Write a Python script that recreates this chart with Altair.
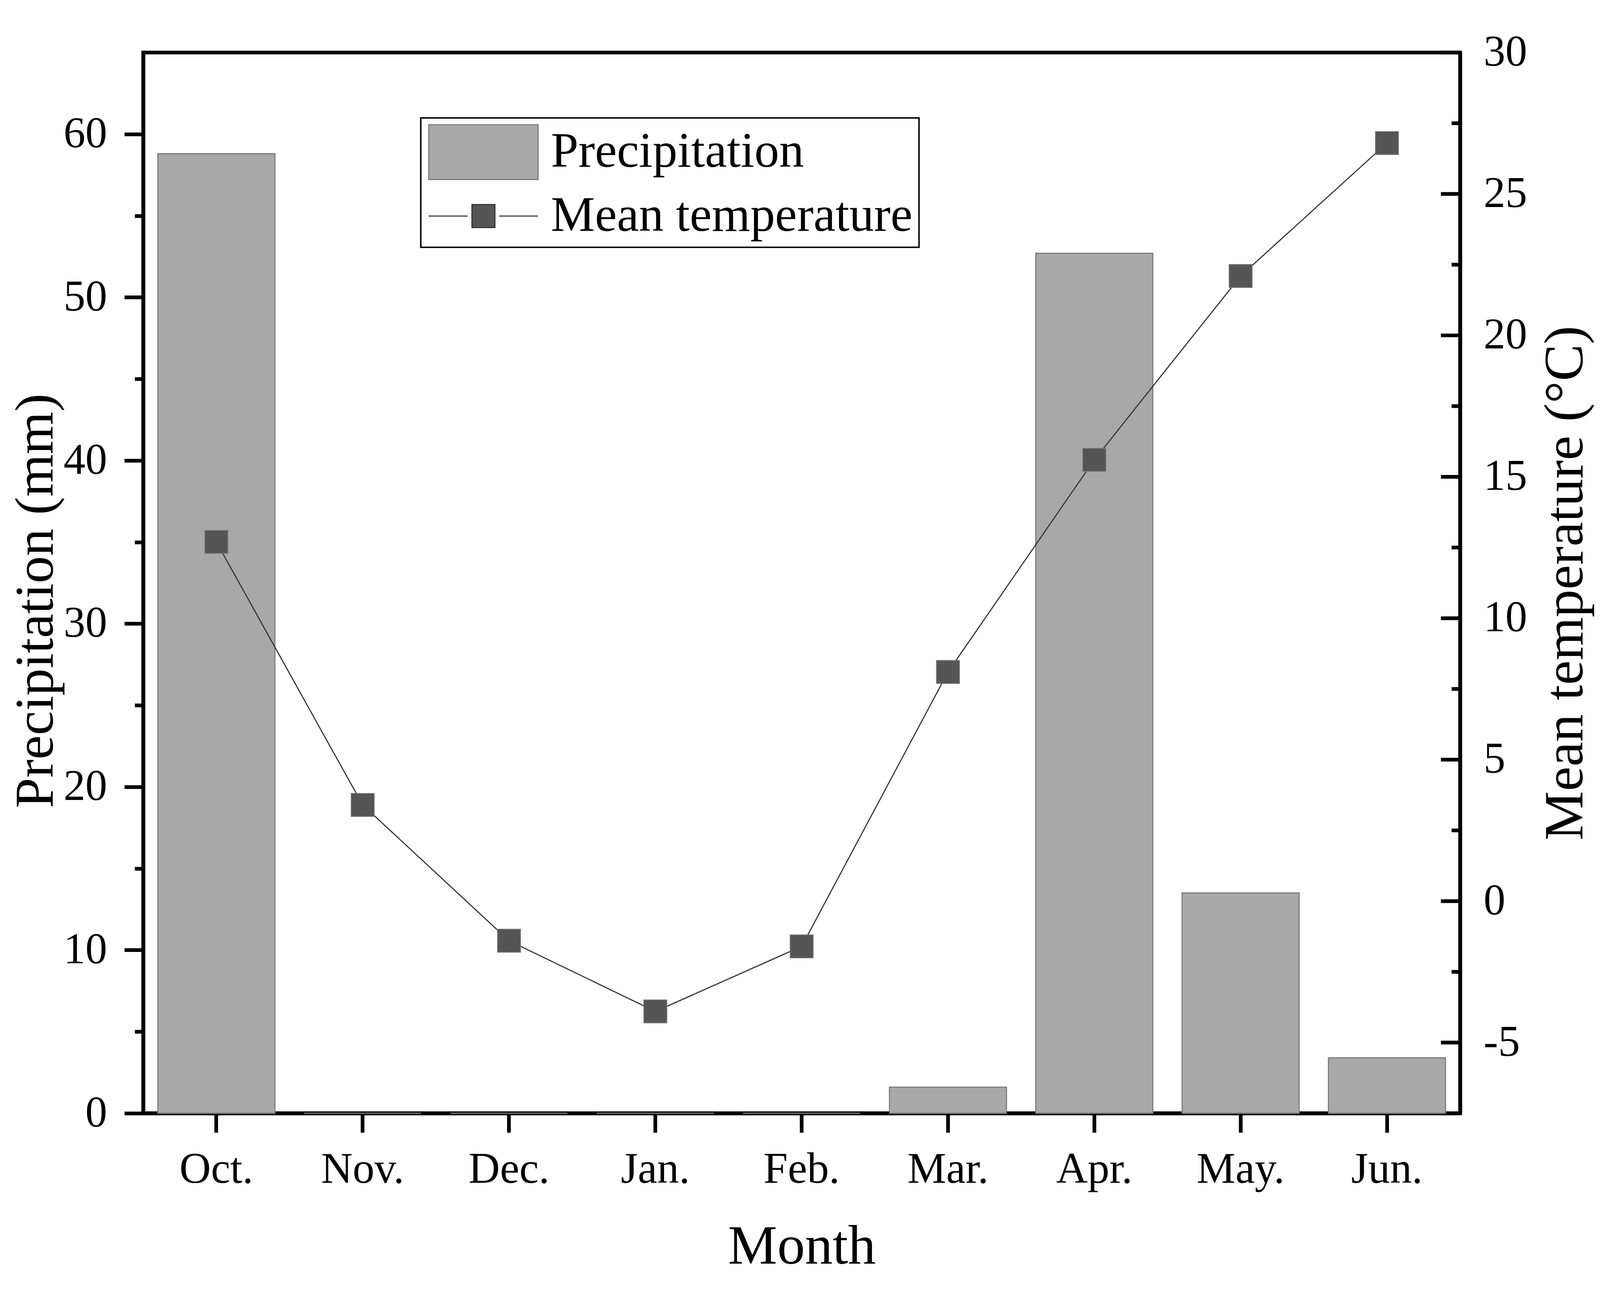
import altair as alt
import pandas as pd

# ---- data ----
months = ["Oct.", "Nov.", "Dec.", "Jan.", "Feb.", "Mar.", "Apr.", "May.", "Jun."]
precipitation = [58.8, 0, 0, 0, 0, 1.6, 52.7, 13.5, 3.4]
mean_temperature = [12.7, 3.4, -1.4, -3.9, -1.6, 8.1, 15.6, 22.1, 26.8]
series_names = ["Precipitation", "Mean temperature"]
left_ticks = [0, 5, 10, 15, 20, 25, 30, 35, 40, 45, 50, 55, 60]
right_major = [-5, 0, 5, 10, 15, 20, 25, 30]
right_minor = [-2.5, 2.5, 7.5, 12.5, 17.5, 22.5, 27.5]

W, H = 3563, 2870
FONT = "Liberation Serif"

df = pd.DataFrame({"month": months, "precip": precipitation, "temp": mean_temperature})
legend_df = pd.DataFrame({"series": series_names})
major_df = pd.DataFrame({"v": right_major})
minor_df = pd.DataFrame({"v": right_minor})


def x_scale():
    return alt.Scale(domain=months, paddingInner=0.2, paddingOuter=0.1)


def left_scale():
    return alt.Scale(domain=[0, 65], nice=False, zero=True)


def right_scale():
    return alt.Scale(domain=[-7.5, 30], nice=False, zero=False)


def x_axis():
    return alt.Axis(
        title="Month", labelAngle=0, tickSize=52, labelPadding=43,
        titlePadding=87, titleFontSize=150, orient="bottom",
    )


left_axis = alt.Axis(
    title="Precipitation (mm)", values=left_ticks,
    labelExpr="datum.value % 10 === 0 ? datum.label : ''",
    tickSize={"condition": {"test": "datum.value % 10 !== 0", "value": 23}, "value": 51},
    labelPadding=47, titlePadding=14, titleFontSize=148, titleY=1483, orient="left",
)
right_axis = alt.Axis(
    title="Mean temperature (°C)", values=right_major,
    labelExpr="'' + datum.value", ticks=False,
    labelPadding=63, titlePadding=30, titleFontSize=150,
    titleAngle=270, titleBaseline="top", orient="right",
)

bars = alt.Chart(df).mark_bar(fill="#A8A8A8", stroke="#7A7A7A", strokeWidth=3).encode(
    x=alt.X("month:N", sort=months, scale=x_scale(), axis=x_axis()),
    y=alt.Y("precip:Q", scale=left_scale(), axis=left_axis),
)

line = alt.Chart(df).mark_line(color="#333333", strokeWidth=3).encode(
    x=alt.X("month:N", sort=months, scale=x_scale(), axis=x_axis()),
    y=alt.Y("temp:Q", scale=right_scale(), axis=right_axis),
)

points = alt.Chart(df).mark_point(
    shape="square", filled=True, size=3900, fill="#555555",
    stroke="#7A7A7A", strokeWidth=2, opacity=1,
).encode(
    x=alt.X("month:N", sort=months, scale=x_scale(), axis=x_axis()),
    y=alt.Y("temp:Q", scale=right_scale(), axis=None),
)

major_ticks = alt.Chart(major_df).mark_rule(color="black", strokeWidth=10, x2Offset=-52).encode(
    y=alt.Y("v:Q", scale=right_scale(), axis=None),
    x=alt.value("width"), x2=alt.value("width"),
)
minor_ticks = alt.Chart(minor_df).mark_rule(color="black", strokeWidth=10, x2Offset=-23).encode(
    y=alt.Y("v:Q", scale=right_scale(), axis=None),
    x=alt.value("width"), x2=alt.value("width"),
)

rect_path = "M-2,-1H2V1H-2Z"
line_path = "M-2,0H-0.58M0.58,0H2M-0.42,-0.42H0.42V0.42H-0.42Z"

leg = alt.Legend(
    title=None, orient="none", legendX=751, legendY=177, direction="vertical",
    symbolSize=148 * 148, symbolStrokeWidth=3, symbolOpacity=1,
    symbolOffset=77, labelOffset=107, labelFont=FONT, labelFontSize=134,
    labelColor="black", labelLimit=3000, padding=17, rowPadding=17,
    strokeColor="black", fillColor="white",
)

legend_layer = alt.Chart(legend_df).mark_point(filled=True, opacity=0).encode(
    color=alt.Color("series:N", scale=alt.Scale(domain=series_names, range=["#A8A8A8", "#555555"]), legend=leg),
    stroke=alt.Stroke("series:N", scale=alt.Scale(domain=series_names, range=["#7A7A7A", "#333333"]), legend=leg),
    shape=alt.Shape("series:N", scale=alt.Scale(domain=series_names, range=[rect_path, line_path]), legend=leg),
)

chart = (
    alt.layer(bars, line, points, major_ticks, minor_ticks, legend_layer)
    .resolve_scale(y="independent")
    .properties(
        width=W, height=H,
        autosize=alt.AutoSizeParams(type="none"),
        padding={"left": 379, "top": 39, "right": 370, "bottom": 420},
        background="white",
    )
    .configure_view(stroke="black", strokeWidth=10)
    .configure_axis(
        labelFont=FONT, titleFont=FONT, labelFontSize=118, titleFontSize=150,
        labelColor="black", titleColor="black", titleFontWeight="normal",
        domainColor="black", domainWidth=10, tickColor="black", tickWidth=10,
        grid=False, labelLimit=1000,
    )
    .configure_legend(strokeWidth=4)
)

chart.save("out.html", embed_options={"renderer": "svg", "actions": False})
